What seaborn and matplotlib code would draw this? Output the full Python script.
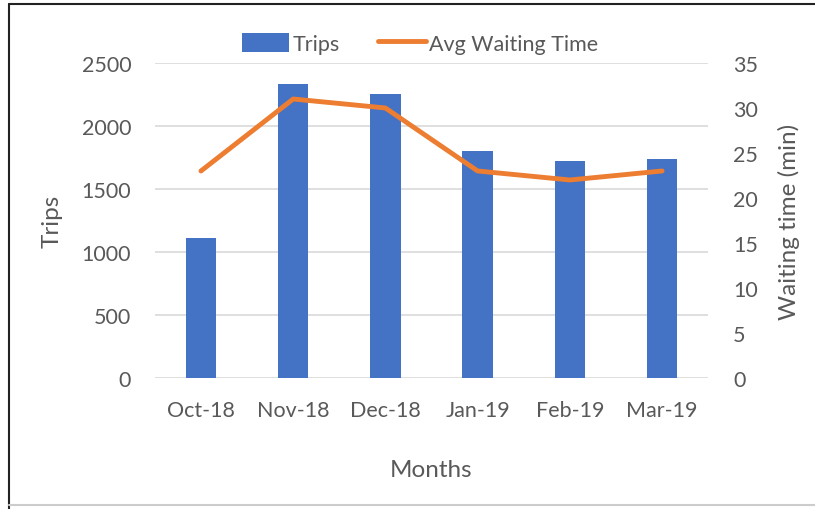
import matplotlib
matplotlib.use("Agg")
import matplotlib.pyplot as plt
import seaborn as sns
import pandas as pd
from matplotlib.lines import Line2D
from matplotlib.patches import Patch

months = ["Oct-18", "Nov-18", "Dec-18", "Jan-19", "Feb-19", "Mar-19"]
trips = [1110, 2330, 2250, 1800, 1720, 1740]
wait_time = [23, 31, 30, 23, 22, 23]

sns.set_style("white")
plt.rcParams['font.family'] = ['Lato', 'DejaVu Sans']

df = pd.DataFrame({"Month": months, "Trips": trips, "Wait": wait_time})

fig = plt.figure(figsize=(8.15, 5.1), dpi=100)
ax = fig.add_axes([0.190, 0.257, 0.679, 0.6175])

BLUE = "#4472C4"
ORANGE = "#ED7D31"
TXT = "#595959"
TICK = 15.5
LAB = 17.5

sns.barplot(data=df, x="Month", y="Trips", ax=ax, color=BLUE, width=0.33,
            saturation=1, edgecolor="none", zorder=3)
ax.set_ylim(0, 2500)
ax.set_yticks(range(0, 2501, 500))
ax.yaxis.grid(True, color="#D9D9D9", linewidth=1.2, zorder=0)
ax.set_axisbelow(True)
for s in ax.spines.values():
    s.set_visible(False)
ax.tick_params(axis="both", length=0, labelsize=TICK, labelcolor=TXT)
ax.tick_params(axis="x", pad=16)
ax.tick_params(axis="y", pad=17)
ax.set_xlabel("Months", fontsize=LAB, color=TXT, labelpad=28)
ax.set_ylabel("Trips", fontsize=LAB, color=TXT, labelpad=14)
ax.set_xlim(-0.5, 5.5)

ax2 = ax.twinx()
sns.lineplot(x=list(range(len(months))), y=wait_time, ax=ax2, color=ORANGE,
             linewidth=3.5, solid_capstyle="round", solid_joinstyle="round", zorder=4)
ax2.set_ylim(0, 35)
ax2.set_yticks(range(0, 36, 5))
for s in ax2.spines.values():
    s.set_visible(False)
ax2.tick_params(axis="y", length=0, labelsize=TICK, labelcolor=TXT, pad=18)
ax2.set_ylabel("Waiting time (min)", fontsize=LAB, color=TXT, labelpad=14)
ax2.set_xlim(-0.5, 5.5)

handles = [Patch(facecolor=BLUE, edgecolor="none"),
           Line2D([0], [0], color=ORANGE, linewidth=3.5, solid_capstyle="round")]
leg = fig.legend(handles, ["Trips", "Avg Waiting Time"], loc="center",
                 bbox_to_anchor=(0.515, 0.913), ncol=2, frameon=False,
                 fontsize=TICK, handlelength=2.2, handleheight=1.0,
                 handletextpad=0.15, columnspacing=1.8)
for t in leg.get_texts():
    t.set_color(TXT)

# chart frame border
fig.add_artist(Line2D([0.011, 0.011], [0.0, 0.99], transform=fig.transFigure, color="#222222", linewidth=1.5))
fig.add_artist(Line2D([0.011, 1.0], [0.99, 0.99], transform=fig.transFigure, color="#222222", linewidth=1.5))
fig.add_artist(Line2D([0.011, 1.0], [0.008, 0.008], transform=fig.transFigure, color="#CCCCCC", linewidth=1.5))

fig.savefig("out.png", dpi=100)
